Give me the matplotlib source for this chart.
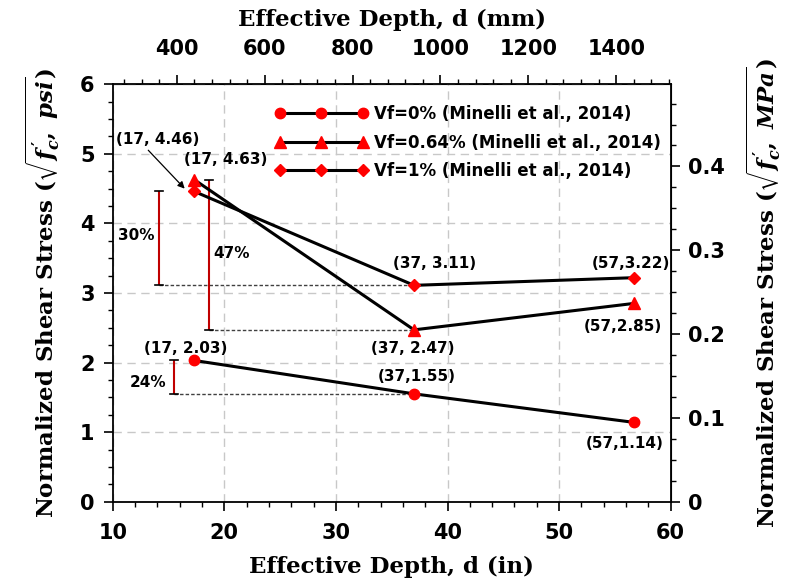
import numpy as np
import matplotlib
matplotlib.use("Agg")
import matplotlib.pyplot as plt
from matplotlib.ticker import MultipleLocator, FuncFormatter

# data
depth_in = [17.3, 37.0, 56.7]
vf0 = [2.03, 1.55, 1.14]
vf064 = [4.63, 2.47, 2.85]
vf1 = [4.46, 3.11, 3.22]
series_labels = ["Vf=0% (Minelli et al., 2014)",
                 "Vf=0.64% (Minelli et al., 2014)",
                 "Vf=1% (Minelli et al., 2014)"]
drop_labels = ["30%", "47%", "24%"]

IN2MM = 25.4
PSI2MPA = 0.083

plt.rcParams['mathtext.fontset'] = 'custom'
plt.rcParams['mathtext.rm'] = 'DejaVu Serif:bold'
plt.rcParams['mathtext.it'] = 'DejaVu Serif:italic:bold'
plt.rcParams['mathtext.bf'] = 'DejaVu Serif:bold'
plt.rcParams['mathtext.fallback'] = 'stix'

sans = 'DejaVu Sans'
serif = 'DejaVu Serif'
TICK_FS = 15
LAB_FS = 16.5

fig = plt.figure(figsize=(7.86, 5.83), dpi=100)
ax = fig.add_axes([0.1434, 0.1395, 0.7099, 0.7159])

ax.plot(depth_in, vf0, color='black', lw=2.2, marker='o', ms=7.5,
        mfc='red', mec='red', label=series_labels[0], zorder=5)
ax.plot(depth_in, vf064, color='black', lw=2.2, marker='^', ms=9,
        mfc='red', mec='red', label=series_labels[1], zorder=5)
ax.plot(depth_in, vf1, color='black', lw=2.2, marker='D', ms=6,
        mfc='red', mec='red', label=series_labels[2], zorder=5)

ax.set_xlim(10, 60)
ax.set_ylim(0, 6)

# reduction brackets
bar_x = [14.15, 18.66, 15.5]
bar_pairs = [(vf1[0], vf1[1]), (vf064[0], vf064[1]), (vf0[0], vf0[1])]
for bx, (top, bot) in zip(bar_x, bar_pairs):
    ax.vlines(bx, bot, top, color='#c00000', lw=1.5, zorder=3)
    ax.plot([bx - 0.35, bx + 0.35], [top, top], color='black', lw=1.2, zorder=3)
    ax.plot([bx - 0.35, bx + 0.35], [bot, bot], color='black', lw=1.2, zorder=3)
    ax.plot([bx, depth_in[1]], [bot, bot], color='#404040', lw=1,
            ls=(0, (2.5, 1.5)), zorder=2)

tkw = dict(fontsize=11, fontweight='bold', family=sans, ha='center', va='center')
ax.text(12.15, 3.83, drop_labels[0], **tkw)
ax.text(20.66, 3.57, drop_labels[1], **tkw)
ax.text(13.2, 1.72, drop_labels[2], **tkw)

ax.annotate("(17, 4.46)", xy=(16.45, 4.5), xytext=(14.07, 5.2),
            arrowprops=dict(arrowstyle='-|>', color='black', lw=0.9,
                            mutation_scale=10, shrinkA=0, shrinkB=0,
                            relpos=(0.35, 0.0)), **tkw)
ax.text(20.1, 4.92, "(17, 4.63)", **tkw)
ax.text(16.55, 2.2, "(17, 2.03)", **tkw)
ax.text(38.8, 3.43, "(37, 3.11)", **tkw)
ax.text(56.4, 3.43, "(57,3.22)", **tkw)
ax.text(36.9, 2.2, "(37, 2.47)", **tkw)
ax.text(55.75, 2.52, "(57,2.85)", **tkw)
ax.text(37.2, 1.8, "(37,1.55)", **tkw)
ax.text(55.85, 0.84, "(57,1.14)", **tkw)

# grid
ax.grid(True, which='major', color='#c8c8c8', ls=(0, (6, 4)), lw=1)
ax.set_axisbelow(True)

# ticks
ax.xaxis.set_major_locator(MultipleLocator(10))
ax.xaxis.set_minor_locator(MultipleLocator(2))
ax.yaxis.set_major_locator(MultipleLocator(1))
ax.yaxis.set_minor_locator(MultipleLocator(0.25))
ax.tick_params(which='major', direction='out', length=6.5, width=1.2, pad=6.5)
ax.tick_params(axis='x', which='major', pad=8.5)
ax.tick_params(which='minor', direction='out', length=3.5, width=1)
ax.tick_params(top=False, right=False)
for lab in ax.get_xticklabels() + ax.get_yticklabels():
    lab.set_fontfamily(sans)
    lab.set_fontweight('bold')
    lab.set_fontsize(TICK_FS)
for s in ax.spines.values():
    s.set_linewidth(1.3)

ax.set_xlabel("Effective Depth, d (in)", family=serif, fontweight='bold',
              fontsize=LAB_FS, labelpad=10)
ax.set_ylabel(r"Normalized Shear Stress ($\sqrt{f^{\,\prime}_{c},\ psi}$)",
              family=serif, fontweight='bold', fontsize=LAB_FS, labelpad=14)

top = ax.secondary_xaxis('top', functions=(lambda x: x * IN2MM, lambda x: x / IN2MM))
top.xaxis.set_major_locator(MultipleLocator(200))
top.xaxis.set_minor_locator(MultipleLocator(40))
top.tick_params(which='major', direction='out', length=6.5, width=1.2, pad=12)
top.tick_params(which='minor', direction='out', length=3.5, width=1)
for lab in top.get_xticklabels():
    lab.set_fontfamily(sans)
    lab.set_fontweight('bold')
    lab.set_fontsize(TICK_FS)
top.set_xlabel("Effective Depth, d (mm)", family=serif, fontweight='bold',
               fontsize=LAB_FS, labelpad=9)

right = ax.secondary_yaxis('right', functions=(lambda y: y * PSI2MPA, lambda y: y / PSI2MPA))
right.yaxis.set_major_locator(MultipleLocator(0.1))
right.yaxis.set_minor_locator(MultipleLocator(0.025))
right.yaxis.set_major_formatter(FuncFormatter(lambda v, p: '0' if abs(v) < 1e-9 else '%.1f' % v))
right.tick_params(which='major', direction='out', length=6.5, width=1.2, pad=6)
right.tick_params(which='minor', direction='out', length=3.5, width=1)
for lab in right.get_yticklabels():
    lab.set_fontfamily(sans)
    lab.set_fontweight('bold')
    lab.set_fontsize(TICK_FS)
right.set_ylabel(r"Normalized Shear Stress ($\sqrt{f^{\,\prime}_{c},\ MPa}$)",
                 family=serif, fontweight='bold', fontsize=LAB_FS, labelpad=14,
                 rotation=90)

leg = ax.legend(loc='upper left', bbox_to_anchor=(0.29, 0.95), frameon=False,
                numpoints=3, handlelength=5.6, handletextpad=0.35,
                labelspacing=0.62, borderpad=0, borderaxespad=0,
                prop=dict(family=sans, weight='bold', size=12))

fig.savefig("out.png", dpi=100)
